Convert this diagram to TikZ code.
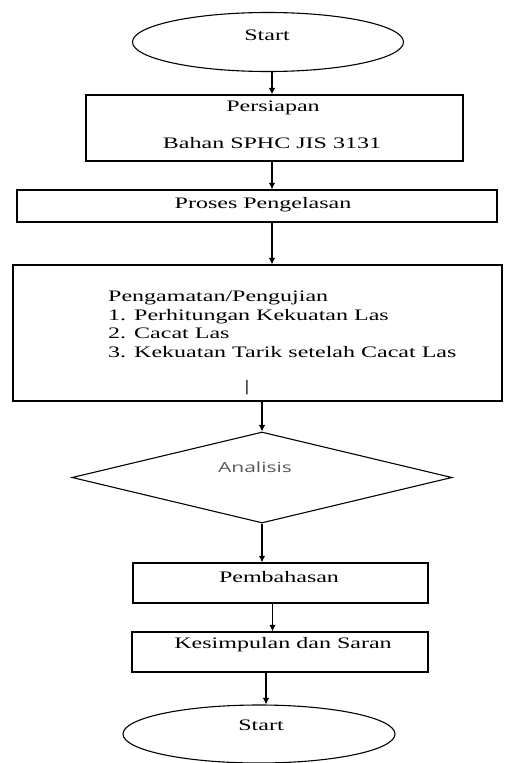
\documentclass[tikz,border=0pt]{standalone}
\usepackage{fontspec}
\setmainfont{Liberation Serif}[FakeStretch=1.5]
\newfontfamily\anafont{Open Sans}[FakeStretch=1.5]
\usetikzlibrary{arrows.meta, shapes.geometric}
\definecolor{anagray}{RGB}{89,89,89}

\begin{document}
\begin{tikzpicture}[
  x = 1pt, y = -1pt,
  > = {Latex[length=2.3mm, width=2.3mm]},
  flow arrow/.style = {->, line width=1.1pt},
  box/.style = {draw, rectangle, line width=1.3pt, inner sep=0pt},
  term/.style = {draw, ellipse, line width=1.1pt, inner sep=0pt},
  txt/.style = {font=\fontsize{16pt}{18.5pt}\selectfont, inner sep=0pt}
]
  \useasboundingbox (0,0) rectangle (504,763);

  % shapes
  \node[term, minimum width=271pt, minimum height=59pt] (start) at (268,42) {};
  \node[box, minimum width=377pt, minimum height=66pt] (prep) at (274.5,128) {};
  \node[box, minimum width=480pt, minimum height=32pt] (weld) at (257,206) {};
  \node[box, minimum width=489pt, minimum height=136pt] (uji) at (257.5,333) {};
  \node[draw, diamond, line width=1.1pt, inner sep=0pt,
        minimum width=380pt, minimum height=91pt] (ana) at (262,477.5) {};
  \node[box, minimum width=295pt, minimum height=40pt] (bahas) at (280.5,583) {};
  \node[box, minimum width=296pt, minimum height=40pt] (simpul) at (280,652) {};
  \node[term, minimum width=272pt, minimum height=58pt] (finish) at (259,734) {};

  % texts
  \node[txt] (startlbl) at (267,35) {Start};
  \node[txt] (preplbl) at (273,108) {Persiapan};
  \node[txt] (bahanlbl) at (272,143) {Bahan SPHC JIS 3131};
  \node[txt] (weldlbl) at (263,205) {Proses Pengelasan};
  \node[txt, anchor=west, align=left] (ujilbl) at (108,324.5)
    {Pengamatan/Pengujian\\1. Perhitungan Kekuatan Las\\2. Cacat Las\\3. Kekuatan Tarik setelah Cacat Las};
  \node[txt] (bar) at (247,388) {\textbar};
  \node[font=\anafont\fontsize{14pt}{16pt}\selectfont, text=anagray, inner sep=0pt] (analbl) at (255,467) {Analisis};
  \node[txt] (bahaslbl) at (279,577) {Pembahasan};
  \node[txt] (simpullbl) at (283,645) {Kesimpulan dan Saran};
  \node[txt] (finishlbl) at (261,725) {Start};

  % arrows
  \draw[flow arrow] ([xshift=4pt]start.south) -- ([xshift=4pt]start.south |- prep.north);
  \draw[flow arrow] ([xshift=-2.5pt]prep.south) -- ([xshift=-2.5pt]prep.south |- weld.north);
  \draw[flow arrow] ([xshift=15pt]weld.south) -- ([xshift=15pt]weld.south |- uji.north);
  \draw[flow arrow] (uji.south -| ana.north) -- (ana.north);
  \draw[flow arrow] (ana.south) -- (ana.south |- bahas.north);
  \draw[flow arrow] ([xshift=-8pt]bahas.south) -- ([xshift=-8pt]bahas.south |- simpul.north);
  \draw[flow arrow] ([xshift=-14pt]simpul.south) -- ([xshift=-14pt]simpul.south |- finish.north);
\end{tikzpicture}
\end{document}
